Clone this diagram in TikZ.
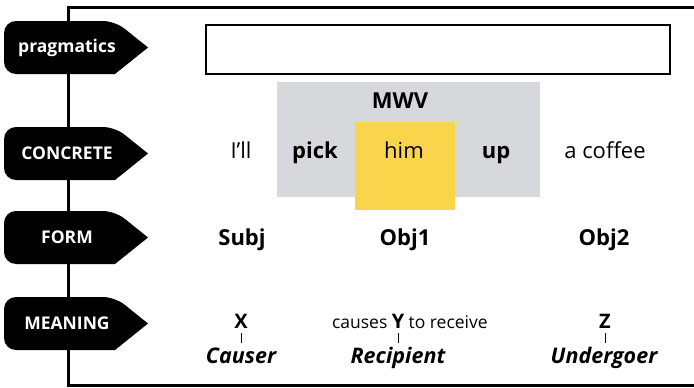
\documentclass[tikz,border=0pt]{standalone}
\usepackage{fontspec}
\setmainfont{Open Sans}
\definecolor{mwvgrey}{RGB}{214,216,219}
\definecolor{himyellow}{RGB}{250,213,76}

\begin{document}
\begin{tikzpicture}[x=1pt,y=-1pt,
  frame/.style={line width=3pt, line join=miter},
  taglabel/.style={text=white, inner sep=0pt, font=\fontsize{17.5}{20}\selectfont\bfseries},
  word/.style={anchor=base, inner sep=0pt, font=\fontsize{22}{26}\selectfont},
  bword/.style={anchor=base, inner sep=0pt, font=\fontsize{22}{26}\selectfont\bfseries},
  var/.style={anchor=base, inner sep=0pt, font=\fontsize{20}{24}\selectfont\bfseries},
  small/.style={anchor=base, inner sep=0pt, font=\fontsize{17.5}{21}\selectfont},
  role/.style={anchor=base, inner sep=0pt, font=\fontsize{21.5}{25}\selectfont\bfseries\itshape},
  tick/.style={line width=0.7pt},
]
\useasboundingbox (0,0) rectangle (694,388);

% outer frame open on the right
\draw[frame] (694,7) -- (68,7) -- (68,385) -- (694,385);

% black row tags pointing right
\newcommand\rowtag[3]{%
  \fill (148,#2) -- (115,#2+26.5) [rounded corners=12pt] -- (4,#2+26.5)
        -- (4,#2-26.5) -- (115,#2-26.5) [sharp corners] -- cycle;
  \node[taglabel] (#1) at (67,#2) {#3};}
\rowtag{tagprag}{47.5}{pragmatics}
\rowtag{tagconc}{153.5}{CONCRETE}
\rowtag{tagform}{237.5}{FORM}
\rowtag{tagmean}{323.5}{MEANING}

% empty pragmatics box
\node[draw, line width=1.3pt, minimum width=464pt, minimum height=49pt,
      inner sep=0pt] (pragbox) at (438,49.5) {};

% multi-word verb block
\node[fill=mwvgrey, minimum width=263pt, minimum height=115pt,
      inner sep=0pt] (mwvbox) at (408.5,139.5) {};
\node[fill=himyellow, minimum width=100pt, minimum height=88pt,
      inner sep=0pt] (himbox) at (405,166) {};
\node[bword] (mwv) at (400,108) {MWV};

% concrete row
\node[word]  (ill)    at (241,158) {I’ll};
\node[bword] (pick)   at (315,158) {pick};
\node[word]  (him)    at (404,158) {him};
\node[bword] (up)     at (496,158) {up};
\node[word]  (coffee) at (605,158) {a coffee};

% form row
\node[bword] (subj) at (242,245) {Subj};
\node[bword] (obj1) at (405,245) {Obj1};
\node[bword] (obj2) at (604,245) {Obj2};

% meaning row
\node[var] (x) at (241,328) {X};
\node[var] (y) at (398,328) {Y};
\node[small, anchor=base east] (causes) at ([xshift=-4pt]y.base west) {causes};
\node[small, anchor=base west] (recv) at ([xshift=4pt]y.base east) {to receive};
\node[var] (z) at (605,328) {Z};

\node[role] (causer)    at (241,363) {Causer};
\node[role] (recipient) at (398,363) {Recipient};
\node[role] (undergoer) at (604,363) {Undergoer};

\draw[tick, shorten <=5pt, shorten >=4pt] (x.south) -- (x.south |- causer.north);
\draw[tick, shorten <=5pt, shorten >=4pt] (y.south) -- (y.south |- causer.north);
\draw[tick, shorten <=5pt, shorten >=4pt] (z.south) -- (z.south |- causer.north);
\end{tikzpicture}
\end{document}
